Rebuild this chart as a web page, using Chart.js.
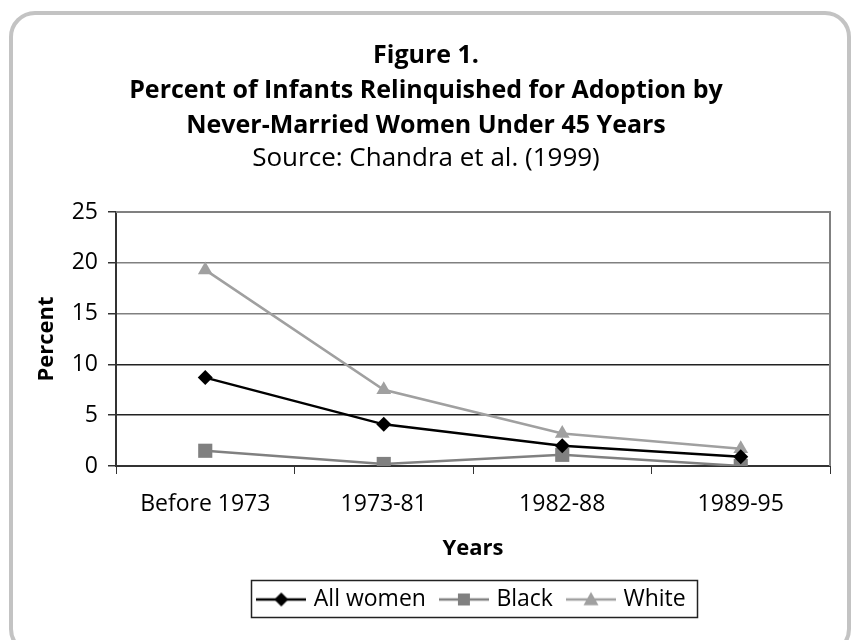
<!DOCTYPE html>
<html>
<head>
<meta charset="utf-8">
<script src="https://cdn.jsdelivr.net/npm/chart.js@4"></script>
<style>
  html, body { margin: 0; padding: 0; background: #ffffff; }
  #wrap { position: relative; width: 855px; height: 640px; overflow: hidden; }
  #frame { position: absolute; left: 9px; top: 11px; width: 834px; height: 636px;
           border: 4px solid #c3c3c3; border-radius: 26px; box-sizing: content-box; }
  #c { position: absolute; left: 0; top: 0; }
</style>
</head>
<body>
<div id="wrap">
  <div id="frame"></div>
  <canvas id="c" width="855" height="640"></canvas>
</div>
<script>
const categories = ['Before 1973', '1973-81', '1982-88', '1989-95'];
const allWomen = [8.7, 4.1, 2.0, 0.9];
const black = [1.5, 0.2, 1.1, 0.0];
const white = [19.3, 7.5, 3.2, 1.7];
const yTicks = [0, 5, 10, 15, 20, 25];
const titleLines = ['Figure 1.', 'Percent of Infants Relinquished for Adoption by', 'Never-Married Women Under 45 Years'];
const subtitleText = 'Source: Chandra et al. (1999)';

const FONT = '"Open Sans", Lato, sans-serif';

function legendImage(color, style, size) {
  const cv = document.createElement('canvas');
  cv.width = 50; cv.height = 18;
  const ctx = cv.getContext('2d');
  ctx.strokeStyle = color; ctx.lineWidth = 2.5;
  ctx.beginPath(); ctx.moveTo(0, 9); ctx.lineTo(50, 9); ctx.stroke();
  ctx.fillStyle = color;
  ctx.beginPath();
  if (style === 'diamond') {
    ctx.moveTo(25, 9 - size); ctx.lineTo(25 + size, 9); ctx.lineTo(25, 9 + size); ctx.lineTo(25 - size, 9);
  } else if (style === 'square') {
    ctx.rect(25 - size, 9 - size, size * 2, size * 2);
  } else {
    ctx.moveTo(25, 9 - size); ctx.lineTo(25 + size, 9 + size * 0.75); ctx.lineTo(25 - size, 9 + size * 0.75);
  }
  ctx.closePath(); ctx.fill();
  return cv;
}

const legendImgs = [
  legendImage('#000000', 'diamond', 7),
  legendImage('#808080', 'square', 6),
  legendImage('#a0a0a0', 'triangle', 7.5)
];

const legendShift = {
  id: 'legendShift',
  afterLayout(chart) {
    const lg = chart.legend;
    const a = chart.chartArea;
    if (!lg) return;
    const dx = (a.left + a.right) / 2 - (lg.left + lg.right) / 2;
    lg.left += dx; lg.right += dx;
  }
};

const framePlugin = {
  id: 'framePlugin',
  afterDraw(chart) {
    const ctx = chart.ctx;
    const a = chart.chartArea;
    ctx.save();
    ctx.strokeStyle = '#808080';
    ctx.lineWidth = 2;
    ctx.beginPath();
    ctx.moveTo(a.left, a.top); ctx.lineTo(a.right, a.top); ctx.lineTo(a.right, a.bottom);
    ctx.stroke();
    const lg = chart.legend;
    if (lg && lg.legendHitBoxes && lg.legendHitBoxes.length) {
      let l = Infinity, r = -Infinity, t = Infinity, b = -Infinity;
      lg.legendHitBoxes.forEach(h => {
        l = Math.min(l, h.left); r = Math.max(r, h.left + h.width);
        t = Math.min(t, h.top); b = Math.max(b, h.top + h.height);
      });
      ctx.strokeStyle = '#222';
      ctx.lineWidth = 1.5;
      ctx.strokeRect(Math.round(l - 9) + 0.5, Math.round(t - 8) + 0.5, Math.round(r - l + 21), Math.round(b - t + 14));
    }
    ctx.restore();
  }
};

new Chart(document.getElementById('c'), {
  type: 'line',
  data: {
    labels: categories,
    datasets: [
      { label: 'All women', data: allWomen, borderColor: '#000000', backgroundColor: '#000000',
        borderWidth: 2.5, pointStyle: 'rectRot', pointRadius: 7.5, pointBorderWidth: 0, tension: 0 },
      { label: 'Black', data: black, borderColor: '#808080', backgroundColor: '#808080',
        borderWidth: 2.5, pointStyle: 'rect', pointRadius: 10, pointBorderWidth: 0, tension: 0 },
      { label: 'White', data: white, borderColor: '#a0a0a0', backgroundColor: '#a0a0a0',
        borderWidth: 2.5, pointStyle: 'triangle', pointRadius: 8.5, pointBorderWidth: 0, tension: 0 }
    ]
  },
  options: {
    responsive: false,
    animation: false,
    events: [],
    layout: { padding: { left: 22, right: 25, top: 38, bottom: 19 } },
    plugins: {
      title: {
        display: true, text: titleLines, color: '#000',
        font: { family: FONT, size: 25, weight: 'bold', lineHeight: 1.4 },
        padding: { top: 0, bottom: 0 }
      },
      subtitle: {
        display: true, text: subtitleText, color: '#000',
        font: { family: FONT, size: 26, weight: 'normal', lineHeight: 1.23 },
        padding: { top: 0, bottom: 37 }
      },
      legend: {
        display: true, position: 'bottom',
        labels: {
          usePointStyle: true, pointStyleWidth: 42, boxHeight: 18,
          color: '#000', padding: 17,
          font: { family: FONT, size: 23 },
          generateLabels(chart) {
            return chart.data.datasets.map((ds, i) => ({
              text: ds.label, pointStyle: legendImgs[i], fillStyle: ds.borderColor,
              strokeStyle: ds.borderColor, lineWidth: 0, datasetIndex: i, hidden: false
            }));
          }
        }
      },
      tooltip: { enabled: false }
    },
    scales: {
      x: {
        offset: true,
        grid: { offset: true, drawOnChartArea: false, drawTicks: true, tickLength: 8, tickColor: '#333', color: '#333' },
        border: { display: true, color: '#333', width: 2 },
        ticks: { color: '#000', padding: 17, font: { family: FONT, size: 23 }, maxRotation: 0 },
        title: { display: true, text: 'Years', color: '#000', font: { family: FONT, size: 22, weight: 'bold' }, padding: { top: 0, bottom: 9 } }
      },
      y: {
        min: 0, max: 25,
        afterFit(scale) { scale.width = 94; },
        afterBuildTicks(scale) { scale.ticks = yTicks.map(v => ({ value: v })); },
        grid: {
          drawTicks: true, tickLength: 8, tickColor: '#333',
          color: ctx => (ctx.tick && ctx.tick.value >= 15) ? '#808080' : '#222',
          lineWidth: 1.5
        },
        border: { display: true, color: '#333', width: 2 },
        ticks: { color: '#000', padding: 10, font: { family: FONT, size: 23 } },
        title: { display: true, text: 'Percent', color: '#000', font: { family: FONT, size: 22, weight: 'bold' }, padding: { top: 12, bottom: 0 } }
      }
    }
  },
  plugins: [legendShift, framePlugin]
});
</script>
</body>
</html>
